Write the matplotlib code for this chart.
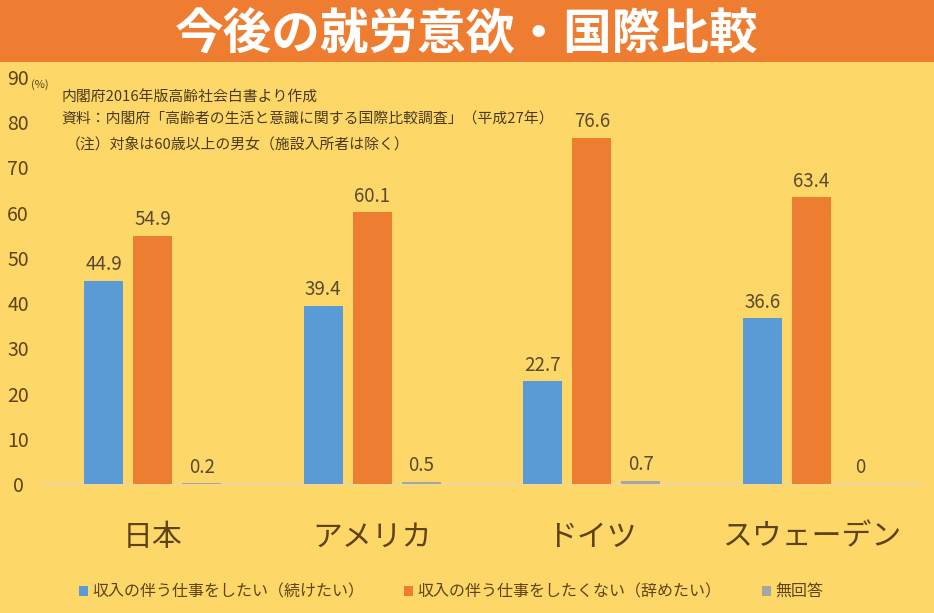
import matplotlib
matplotlib.use("Agg")
import matplotlib.pyplot as plt
from matplotlib.patches import Patch, Rectangle
import numpy as np

plt.rcParams['font.family'] = ['Noto Sans CJK JP', 'DejaVu Sans']

# Data
countries = ["日本", "アメリカ", "ドイツ", "スウェーデン"]
series_names = ["収入の伴う仕事をしたい（続けたい）", "収入の伴う仕事をしたくない（辞めたい）", "無回答"]
want_work = [44.9, 39.4, 22.7, 36.6]
not_want_work = [54.9, 60.1, 76.6, 63.4]
no_answer = [0.2, 0.5, 0.7, 0.0]
y_ticks = [0, 10, 20, 30, 40, 50, 60, 70, 80, 90]

title = "今後の就労意欲・国際比較"
notes = ["内閣府2016年版高齢社会白書より作成",
         "資料：内閣府「高齢者の生活と意識に関する国際比較調査」（平成27年）",
         "（注）対象は60歳以上の男女（施設入所者は除く）"]

BG = "#FDD767"
BAND = "#EE7D31"
COLORS = ["#5B9BD5", "#ED7D31", "#A5A5A5"]
TEXT = "#5E4318"

fig = plt.figure(figsize=(9.34, 6.13), dpi=100, facecolor=BG)

# title band
fig.patches.append(Rectangle((0, 0.899), 1, 0.101, transform=fig.transFigure,
                             facecolor=BAND, edgecolor="none", zorder=0))
fig.text(0.5, 0.943, title, ha="center", va="center", color="white",
         fontsize=35, fontweight="bold")

ax = fig.add_axes([0.046, 0.2104, 0.94, 0.664])
ax.set_facecolor(BG)

x = np.arange(len(countries))
width = 0.178
step = 0.223
all_series = [want_work, not_want_work, no_answer]
for i, vals in enumerate(all_series):
    bars = ax.bar(x + (i - 1) * step, vals, width=width, color=COLORS[i], zorder=3)
    ax.bar_label(bars, labels=[f"{v:g}" for v in vals], padding=4,
                 fontsize=13.5, color="#5a4a30")

ax.set_xlim(-0.5, 3.5)
ax.set_ylim(0, 90)
ax.set_yticks(y_ticks)
ax.tick_params(axis="y", length=0, labelsize=14, labelcolor=TEXT, pad=18)
for lbl in ax.get_yticklabels():
    lbl.set_horizontalalignment("center")
ax.set_xticks(x)
ax.set_xticklabels(countries)
ax.tick_params(axis="x", length=0, labelsize=21.5, labelcolor=TEXT, pad=27)
for s in ["top", "right", "left"]:
    ax.spines[s].set_visible(False)
ax.spines["bottom"].set_color("#E6D9B0")
ax.spines["bottom"].set_linewidth(1.2)

fig.text(0.033, 0.862, "(%)", fontsize=8, color=TEXT, va="center")

note_y = [0.841, 0.805, 0.763]
note_x = [0.066, 0.066, 0.070]
for t, nx, ny in zip(notes, note_x, note_y):
    fig.text(nx, ny, t, fontsize=10.7, color="#4a3a20", va="center")

handles = [Patch(facecolor=c, edgecolor="none") for c in COLORS]
fig.legend(handles, series_names, loc="center", bbox_to_anchor=(0.483, 0.034),
           ncol=3, frameon=False, fontsize=11.5, handlelength=0.55, handleheight=0.55,
           handletextpad=0.3, columnspacing=2.5, labelcolor=TEXT)

fig.savefig("out.png", dpi=100, facecolor=BG)
